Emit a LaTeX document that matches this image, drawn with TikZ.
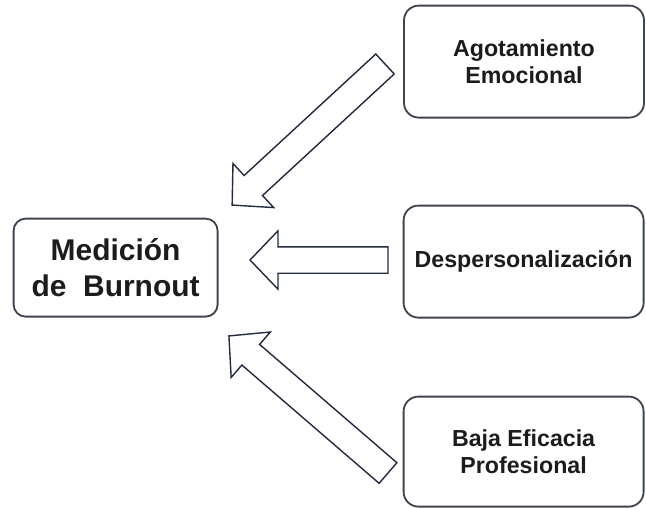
\documentclass[tikz,border=0pt]{standalone}
\usepackage{fontspec}
\setmainfont{Liberation Sans}
\definecolor{boxline}{HTML}{3F4451}
\definecolor{arrowline}{HTML}{222B40}
\definecolor{txt}{HTML}{1C1C1C}
\tikzset{
  factor/.style={draw=boxline, line width=1.3pt, rounded corners=0.37cm, align=center,
    minimum width=6.0cm, minimum height=2.8cm, inner sep=2pt, text=txt,
    font=\bfseries\fontsize{16.5}{18.8}\selectfont},
  mainbox/.style={factor, rounded corners=0.3cm, minimum width=5.1cm, minimum height=2.45cm,
    font=\bfseries\fontsize{21.3}{25}\selectfont},
  blockarrow/.style={draw=arrowline, fill=white, line width=1pt, line join=miter}
}
\begin{document}
\begin{tikzpicture}
  \useasboundingbox (0,0) rectangle (16.15,-12.7);

  \node[mainbox] (medicion) at (2.89,-6.69) {Medición\\de~~Burnout};

  \node[factor] (agotamiento) at (13.1,-1.54) {Agotamiento\\Emocional};
  \node[factor] (desperson) at (13.09,-6.54) {Despersonalización};
  \node[factor, minimum height=2.75cm] (eficacia) at (13.09,-11.29) {Baja Eficacia\\Profesional};

  % arrow from agotamiento
  \begin{scope}[shift={(9.625,-1.6)}, rotate=222.7]
    \draw[blockarrow] (0,-0.34) -- (4.48,-0.34) -- (4.48,-0.75) -- (5.2,0)
      -- (4.48,0.75) -- (4.48,0.34) -- (0,0.34) -- cycle;
  \end{scope}
  % arrow from despersonalizacion
  \begin{scope}[shift={(9.7,-6.5)}, rotate=180]
    \draw[blockarrow] (0,-0.33) -- (2.75,-0.33) -- (2.75,-0.73) -- (3.45,0)
      -- (2.75,0.73) -- (2.75,0.33) -- (0,0.33) -- cycle;
  \end{scope}
  % arrow from eficacia
  \begin{scope}[shift={(9.7,-11.825)}, rotate=139.25]
    \draw[blockarrow] (0,-0.34) -- (4.53,-0.34) -- (4.53,-0.75) -- (5.25,0)
      -- (4.53,0.75) -- (4.53,0.34) -- (0,0.34) -- cycle;
  \end{scope}
\end{tikzpicture}
\end{document}
